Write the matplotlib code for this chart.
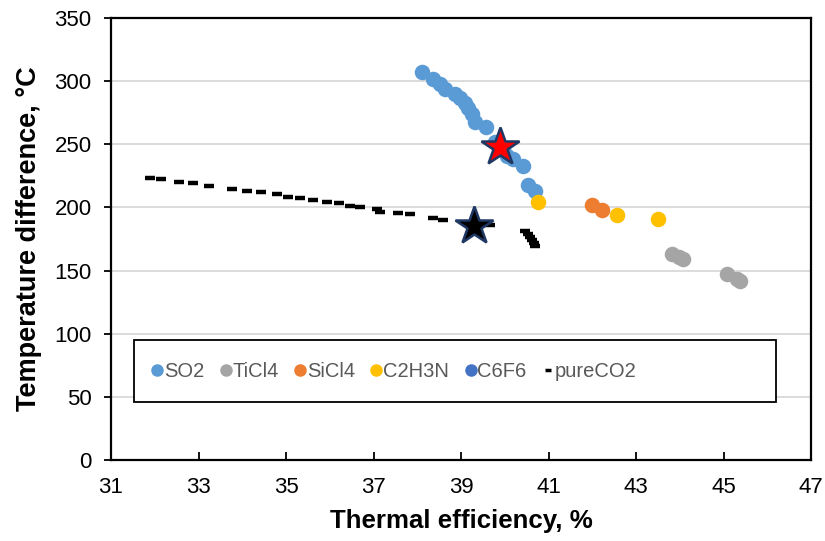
import matplotlib
matplotlib.use("Agg")
import matplotlib.pyplot as plt
from matplotlib.patches import Rectangle
from matplotlib.lines import Line2D

plt.rcParams['font.family'] = ['Liberation Sans', 'DejaVu Sans']

# ---- data ----
so2_x = [38.10, 38.36, 38.52, 38.63, 38.86, 38.98, 39.09, 39.16, 39.24, 39.32,
         39.57, 39.78, 39.95, 40.04, 40.19, 40.42, 40.53, 40.69]
so2_y = [307, 302, 298, 294, 290, 287, 283, 279, 274, 268,
         264, 252, 246, 241, 238, 233, 218, 213]

ticl4_x = [43.82, 43.98, 44.08, 45.07, 45.30, 45.38]
ticl4_y = [163.5, 161, 159, 147, 143.5, 142]

sicl4_x = [42.00, 42.22]
sicl4_y = [202, 198]

c2h3n_x = [40.77, 42.56, 43.50]
c2h3n_y = [204, 194, 190.5]

c6f6_x = []
c6f6_y = []

pureco2_x = [31.89, 32.14, 32.55, 32.88, 33.24, 33.76, 34.10, 34.43, 34.79, 35.05,
             35.32, 35.61, 35.94, 36.20, 36.46, 36.69, 37.07, 37.16, 37.57, 37.83,
             38.35, 38.58, 39.20, 39.66, 40.46, 40.53, 40.58, 40.62, 40.66, 40.69]
pureco2_y = [223.3, 222.5, 220.4, 219.0, 217.2, 214.6, 213.2, 212.2, 210.9, 208.5,
             207.4, 206.1, 204.5, 203.7, 201.4, 200.6, 198.7, 196.6, 195.8, 195.0,
             191.6, 190.3, 187.5, 186.3, 181.6, 179.0, 176.5, 174.0, 172.0, 169.7]

star_red = (39.89, 248)
star_black = (39.30, 185.3)

x_ticks = [31, 33, 35, 37, 39, 41, 43, 45, 47]
y_ticks = [0, 50, 100, 150, 200, 250, 300, 350]

labels = ['SO2', 'TiCl4', 'SiCl4', 'C2H3N', 'C6F6', 'pureCO2']
colors = ['#5B9BD5', '#A5A5A5', '#ED7D31', '#FFC000', '#4472C4']

# ---- figure ----
fig = plt.figure(figsize=(8.25, 5.41), dpi=100)
ax = fig.add_axes([111/825, 81/541, 700/825, 442/541])

ax.set_xlim(31, 47)
ax.set_ylim(0, 350)
ax.set_xticks(x_ticks)
ax.set_yticks(y_ticks)
ax.yaxis.grid(True, color='#D9D9D9', linewidth=1.3, zorder=0)
ax.set_axisbelow(True)

for s in ax.spines.values():
    s.set_color('black')
    s.set_linewidth(1.6)

ax.tick_params(axis='x', direction='in', length=6, width=1.3, labelsize=16, pad=12, colors='black')
ax.tick_params(axis='y', direction='out', length=5, width=1.3, labelsize=16, pad=9, colors='black')

ms = 125
ax.scatter(so2_x, so2_y, s=ms, color=colors[0], zorder=3, linewidths=0)
ax.scatter(ticl4_x, ticl4_y, s=ms, color=colors[1], zorder=3, linewidths=0)
ax.scatter(sicl4_x, sicl4_y, s=ms, color=colors[2], zorder=3, linewidths=0)
ax.scatter(c2h3n_x, c2h3n_y, s=ms, color=colors[3], zorder=3, linewidths=0)
ax.scatter(c6f6_x, c6f6_y, s=ms, color=colors[4], zorder=3, linewidths=0)
ax.plot(pureco2_x, pureco2_y, linestyle='none', marker='_', markersize=6.5,
        markeredgewidth=3.2, color='black', zorder=3)

ax.plot([star_red[0]], [star_red[1]], marker='*', markersize=29, markerfacecolor='#FF0000',
        markeredgecolor='#1F3864', markeredgewidth=1.8, linestyle='none', zorder=5)
ax.plot([star_black[0]], [star_black[1]], marker='*', markersize=29, markerfacecolor='black',
        markeredgecolor='#203864', markeredgewidth=1.8, linestyle='none', zorder=5)

ax.set_xlabel('Thermal efficiency, %', fontsize=18.6, fontweight='bold', labelpad=8)
ax.set_ylabel('Temperature difference, °C', fontsize=19.5, fontweight='bold', labelpad=9)

# legend box
rect = Rectangle((0.033, 0.131), 0.917, 0.140, transform=ax.transAxes,
                 facecolor='white', edgecolor='black', linewidth=1.3, zorder=6)
ax.add_patch(rect)

handles = [Line2D([], [], marker='o', linestyle='none', markersize=8,
                  markerfacecolor=c, markeredgecolor=c) for c in colors]
handles.append(Line2D([], [], marker='_', linestyle='none', markersize=5,
                      markeredgewidth=2.5, color='black'))
leg = ax.legend(handles, labels, loc='center left', bbox_to_anchor=(0.058, 0.201),
                ncol=6, frameon=False, fontsize=14.5, handlelength=0.55,
                handletextpad=0.05, columnspacing=0.8, borderaxespad=0,
                borderpad=0)
leg.set_zorder(7)
for t in leg.get_texts():
    t.set_color('#595959')

fig.savefig('out.png', dpi=100)
